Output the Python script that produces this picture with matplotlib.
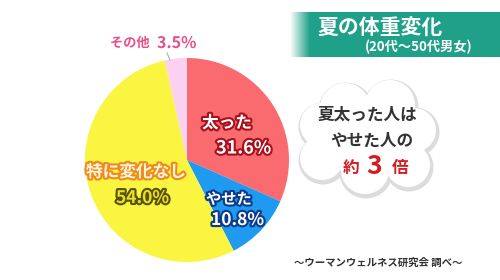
import numpy as np
import matplotlib
matplotlib.use('Agg')
import matplotlib.pyplot as plt
from matplotlib import patheffects as pe
from matplotlib.patches import Circle, Rectangle

plt.rcParams['font.family'] = ['Noto Sans CJK JP', 'DejaVu Sans']

# data
labels = ['太った', 'やせた', '特に変化なし', 'その他']
values = [31.6, 10.8, 54.0, 3.5]
colors = ['#f96b6f', '#1e9af0', '#f9f540', '#fbd0f1']
title = '夏の体重変化'
subtitle = '(20代～50代男女)'
source = '～ウーマンウェルネス研究会 調べ～'

H = 280  # image height in px, y flipped below


def Y(y):
    return H - y


fig = plt.figure(figsize=(5, 2.8), dpi=100)
fig.patch.set_facecolor('white')
ax = fig.add_axes([0, 0, 1, 1])

# pie
ax.pie(values, colors=colors, startangle=90, counterclock=False,
       center=(187, Y(160)), radius=102,
       wedgeprops=dict(linewidth=0))
ax.set_xlim(0, 500)
ax.set_ylim(0, 280)
ax.set_aspect('auto')
ax.axis('off')

# labels on the pie
def outlined(x, y, s, size, fc, ec, lw=3, **kw):
    ax.text(x, Y(y), s, fontsize=size, color=fc, fontweight='bold',
            ha='left', va='center',
            path_effects=[pe.withStroke(linewidth=lw, foreground=ec)], **kw)

outlined(202, 123, labels[0], 12, 'white', '#a8101c')
outlined(216, 148, '%.1f%%' % values[0], 13, 'white', '#a8101c')
outlined(206, 199, labels[1], 11, 'white', '#0d3a8a')
outlined(211, 220, '%.1f%%' % values[1], 12.5, 'white', '#0d3a8a')
outlined(86, 172, labels[2], 12, '#fff6d8', '#f08a20')
outlined(116, 198, '%.1f%%' % values[2], 12.5, '#e8e030', '#5a5200')
outlined(110, 43, labels[3], 9.5, '#e84f8a', 'white', lw=2.5)
outlined(157, 43, '%.1f%%' % values[3], 11.5, '#e84f8a', 'white', lw=2.5)
ax.plot([170, 167], [Y(60), Y(53)], color='#9ab8b8', lw=0.8)

# title band
grad = np.linspace(0, 1, 50).reshape(1, -1)
band = np.zeros((1, 50, 4))
band[..., 0] = 0x1f / 255
band[..., 1] = 0xa0 / 255
band[..., 2] = 0x88 / 255
band[..., 3] = grad
ax.imshow(band, extent=(290, 310, Y(57), Y(12)), aspect='auto', zorder=2)
ax.add_patch(Rectangle((310, Y(57)), 190, 45, facecolor='#1fa088',
                       edgecolor='none', zorder=2))
ax.text(317, Y(28), title, fontsize=15, color='white', fontweight='bold',
        ha='left', va='center', zorder=3)
ax.text(472, Y(47), subtitle, fontsize=9.5, color='white', fontweight='bold',
        ha='right', va='center', zorder=3)

# cloud
bumps = [(345, 108, 25), (390, 105, 25), (414, 130, 22), (408, 165, 22),
         (365, 170, 24), (322, 158, 22), (322, 125, 22), (365, 135, 35)]
for cx, cy, r in bumps:
    ax.add_patch(Circle((cx + 1, Y(cy) - 2), r + 2.5, facecolor='#dcdcdc',
                        edgecolor='none', zorder=4))
for cx, cy, r in bumps:
    ax.add_patch(Circle((cx, Y(cy)), r, facecolor='white',
                        edgecolor='none', zorder=5))
ax.text(417, Y(115), '夏太った人は', fontsize=12, color='#333333',
        fontweight='bold', ha='right', va='center', zorder=6)
ax.text(413, Y(141), 'やせた人の', fontsize=12, color='#333333',
        fontweight='bold', ha='right', va='center', zorder=6)
ax.text(343, Y(168), '約', fontsize=12, color='#d41c24',
        fontweight='bold', ha='left', va='center', zorder=6)
ax.text(366, Y(166), '3', fontsize=19, color='#d41c24',
        fontweight='bold', ha='left', va='center', zorder=6)
ax.text(392, Y(168), '倍', fontsize=12, color='#d41c24',
        fontweight='bold', ha='left', va='center', zorder=6)

# source
ax.text(378, Y(263), source, fontsize=7.5, color='#333333',
        fontweight='bold', ha='center', va='center')

fig.savefig('out.png', dpi=100)
